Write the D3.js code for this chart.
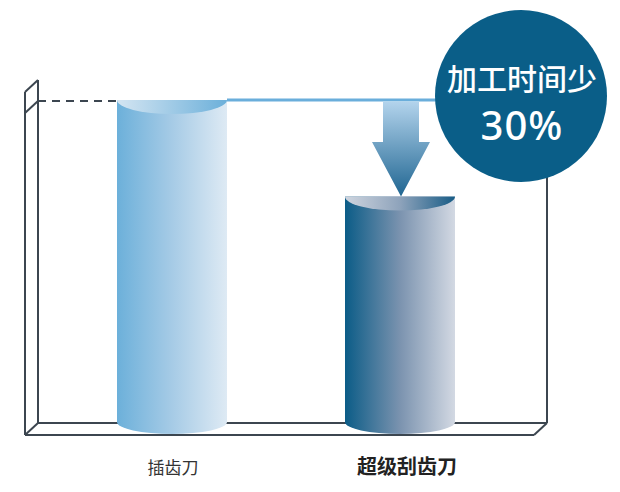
<!DOCTYPE html>
<html><head><meta charset="utf-8">
<script src="https://cdn.jsdelivr.net/npm/d3@7"></script>
<style>html,body{margin:0;padding:0;background:#fff;}svg{display:block;}</style>
</head><body>
<svg id="chart" width="620" height="492"></svg>
<script>
const categories = ["插齿刀", "超级刮齿刀"];
const values = [100, 70];
const badgeLines = ["加工时间少", "30%"];

const svg = d3.select("#chart");
const x = d3.scalePoint().domain(categories).range([172, 400]);
const y = d3.scaleLinear().domain([0, 100]).range([422, 100]);
const barW = 110, rx = 55;
const depth = {dx: 13, dy: -12};

const defs = svg.append("defs");
function lg(id, stops, x1, y1, x2, y2) {
  const g = defs.append("linearGradient").attr("id", id)
    .attr("x1", x1).attr("y1", y1).attr("x2", x2).attr("y2", y2);
  stops.forEach(s => g.append("stop").attr("offset", s[0]).attr("stop-color", s[1]));
}
lg("body0", [[0, "#6cb0da"], [0.5, "#a6cbe6"], [1, "#deeaf4"]], 0, 0, 1, 0);
lg("top0", [[0, "#d4e5f2"], [1, "#6cb0da"]], 0, 0, 1, 0);
lg("body1", [[0, "#0b5c87"], [0.5, "#7b93af"], [1, "#d3d9e3"]], 0, 0, 1, 0);
lg("top1", [[0, "#cfd5df"], [0.5, "#8ea3bb"], [1, "#185c86"]], 0, 0, 1, 0);
lg("arrowG", [[0, "#b2d3ec"], [1, "#1f6591"]], 0, 0, 0, 1);

const stroke = "#3c4650";
const frame = svg.append("g").attr("stroke", stroke).attr("stroke-width", 2).attr("fill", "none");
const y0 = y(0), yTop = y(100);
const backL = 38, frontL = backL - depth.dx, backR = 547, frontR = backR - depth.dx;
const backBottom = y0 + 1, frontBottom = backBottom - depth.dy;
// left walls
frame.append("line").attr("x1", backL).attr("y1", 80).attr("x2", backL).attr("y2", backBottom);
frame.append("line").attr("x1", frontL).attr("y1", 80 - depth.dy).attr("x2", frontL).attr("y2", frontBottom);
frame.append("line").attr("x1", frontL).attr("y1", 80 - depth.dy).attr("x2", backL).attr("y2", 80);
frame.append("line").attr("x1", frontL).attr("y1", yTop + 1 - depth.dy).attr("x2", backL).attr("y2", yTop + 1);
// floor
frame.append("line").attr("x1", backL).attr("y1", backBottom).attr("x2", backR).attr("y2", backBottom);
frame.append("line").attr("x1", frontL).attr("y1", frontBottom).attr("x2", frontR).attr("y2", frontBottom);
frame.append("line").attr("x1", frontL).attr("y1", frontBottom).attr("x2", backL).attr("y2", backBottom);
frame.append("line").attr("x1", frontR).attr("y1", frontBottom).attr("x2", backR).attr("y2", backBottom);
// right wall
frame.append("line").attr("x1", backR).attr("y1", 170).attr("x2", backR).attr("y2", backBottom);

// bars (cylinders)
const bars = svg.append("g").selectAll("g").data(categories).join("g");
bars.append("rect")
  .attr("x", d => x(d) - barW / 2).attr("width", barW)
  .attr("y", (d, i) => y(values[i])).attr("height", (d, i) => y0 - y(values[i]))
  .attr("fill", (d, i) => `url(#body${i})`);
bars.append("ellipse")
  .attr("cx", d => x(d)).attr("cy", y0).attr("rx", rx).attr("ry", 12)
  .attr("fill", (d, i) => `url(#body${i})`);
bars.append("path")
  .attr("d", (d, i) => {
    const t = y(values[i]);
    return `M${x(d) - rx},${t} A${rx},14 0 0 0 ${x(d) + rx},${t} Z`;
  })
  .attr("fill", (d, i) => `url(#top${i})`);

// dashed reference line
svg.append("line")
  .attr("x1", backL).attr("x2", x(categories[0]) - rx)
  .attr("y1", y(values[0]) + 1).attr("y2", y(values[0]) + 1)
  .attr("stroke", "#3c4650").attr("stroke-width", 2).attr("stroke-dasharray", "8,6");
// blue reference line
svg.append("line")
  .attr("x1", x(categories[0]) + rx).attr("x2", 470)
  .attr("y1", y(values[0])).attr("y2", y(values[0]))
  .attr("stroke", "#6aaedb").attr("stroke-width", 3);

// arrow
const ax = x(categories[1]) + 1;
const aTop = y(values[0]) + 2, aTip = y(values[1]);
svg.append("path")
  .attr("d", `M${ax - 18},${aTop} L${ax + 18},${aTop} L${ax + 18},142 L${ax + 29},142 L${ax},${aTip} L${ax - 29},142 L${ax - 18},142 Z`)
  .attr("fill", "url(#arrowG)");

// badge
svg.append("circle").attr("cx", 521).attr("cy", 96).attr("r", 86).attr("fill", "#0a5e88");
svg.append("text").attr("x", 522).attr("y", 90).attr("text-anchor", "middle")
  .attr("fill", "#fff").attr("font-family", "'Noto Sans CJK SC', sans-serif")
  .attr("font-weight", 500).attr("font-size", 30).text(badgeLines[0]);
svg.append("text").attr("x", 522).attr("y", 140).attr("text-anchor", "middle")
  .attr("fill", "#fff").attr("font-family", "'Noto Sans', 'Open Sans', sans-serif")
  .attr("font-weight", 500).attr("font-size", 40).attr("letter-spacing", 1).text(badgeLines[1]);

// category labels
svg.append("g").selectAll("text").data(categories).join("text")
  .attr("x", (d, i) => x(d) + (i === 0 ? 1 : 7))
  .attr("y", 474)
  .attr("text-anchor", "middle")
  .attr("font-family", "'Noto Sans CJK SC', sans-serif")
  .attr("font-size", (d, i) => i === 0 ? 17 : 20)
  .attr("font-weight", (d, i) => i === 0 ? 400 : 700)
  .attr("fill", (d, i) => i === 0 ? "#333" : "#222")
  .text(d => d);
</script>
</body></html>
